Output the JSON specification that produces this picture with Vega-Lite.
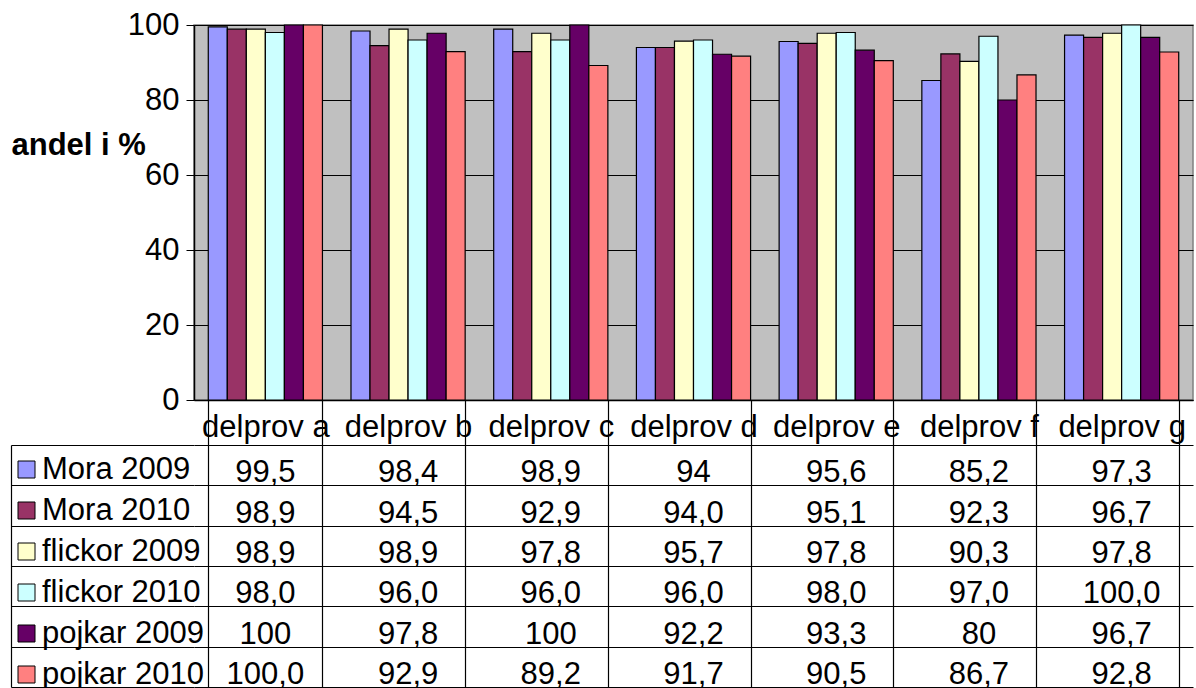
{
  "$schema": "https://vega.github.io/schema/vega-lite/v6.json",
  "padding": {"left": 10, "top": 8, "right": 0, "bottom": 0},
  "spacing": 45,
  "bounds": "flush",
  "config": {
    "font": "Liberation Sans",
    "view": {"stroke": null},
    "axis": {"labelFont": "Liberation Sans", "titleFont": "Liberation Sans", "labelColor": "black", "titleColor": "black", "domainColor": "black", "tickColor": "black", "gridColor": "black", "gridOpacity": 1},
    "legend": {"labelFont": "Liberation Sans"}
  },
  "data": {"values": [
    {"delprov": "delprov a", "serie": "Mora 2009", "andel": 99.5, "etikett": "99,5"},
    {"delprov": "delprov b", "serie": "Mora 2009", "andel": 98.4, "etikett": "98,4"},
    {"delprov": "delprov c", "serie": "Mora 2009", "andel": 98.9, "etikett": "98,9"},
    {"delprov": "delprov d", "serie": "Mora 2009", "andel": 94, "etikett": "94"},
    {"delprov": "delprov e", "serie": "Mora 2009", "andel": 95.6, "etikett": "95,6"},
    {"delprov": "delprov f", "serie": "Mora 2009", "andel": 85.2, "etikett": "85,2"},
    {"delprov": "delprov g", "serie": "Mora 2009", "andel": 97.3, "etikett": "97,3"},
    {"delprov": "delprov a", "serie": "Mora 2010", "andel": 98.9, "etikett": "98,9"},
    {"delprov": "delprov b", "serie": "Mora 2010", "andel": 94.5, "etikett": "94,5"},
    {"delprov": "delprov c", "serie": "Mora 2010", "andel": 92.9, "etikett": "92,9"},
    {"delprov": "delprov d", "serie": "Mora 2010", "andel": 94.0, "etikett": "94,0"},
    {"delprov": "delprov e", "serie": "Mora 2010", "andel": 95.1, "etikett": "95,1"},
    {"delprov": "delprov f", "serie": "Mora 2010", "andel": 92.3, "etikett": "92,3"},
    {"delprov": "delprov g", "serie": "Mora 2010", "andel": 96.7, "etikett": "96,7"},
    {"delprov": "delprov a", "serie": "flickor 2009", "andel": 98.9, "etikett": "98,9"},
    {"delprov": "delprov b", "serie": "flickor 2009", "andel": 98.9, "etikett": "98,9"},
    {"delprov": "delprov c", "serie": "flickor 2009", "andel": 97.8, "etikett": "97,8"},
    {"delprov": "delprov d", "serie": "flickor 2009", "andel": 95.7, "etikett": "95,7"},
    {"delprov": "delprov e", "serie": "flickor 2009", "andel": 97.8, "etikett": "97,8"},
    {"delprov": "delprov f", "serie": "flickor 2009", "andel": 90.3, "etikett": "90,3"},
    {"delprov": "delprov g", "serie": "flickor 2009", "andel": 97.8, "etikett": "97,8"},
    {"delprov": "delprov a", "serie": "flickor 2010", "andel": 98.0, "etikett": "98,0"},
    {"delprov": "delprov b", "serie": "flickor 2010", "andel": 96.0, "etikett": "96,0"},
    {"delprov": "delprov c", "serie": "flickor 2010", "andel": 96.0, "etikett": "96,0"},
    {"delprov": "delprov d", "serie": "flickor 2010", "andel": 96.0, "etikett": "96,0"},
    {"delprov": "delprov e", "serie": "flickor 2010", "andel": 98.0, "etikett": "98,0"},
    {"delprov": "delprov f", "serie": "flickor 2010", "andel": 97.0, "etikett": "97,0"},
    {"delprov": "delprov g", "serie": "flickor 2010", "andel": 100.0, "etikett": "100,0"},
    {"delprov": "delprov a", "serie": "pojkar 2009", "andel": 100, "etikett": "100"},
    {"delprov": "delprov b", "serie": "pojkar 2009", "andel": 97.8, "etikett": "97,8"},
    {"delprov": "delprov c", "serie": "pojkar 2009", "andel": 100, "etikett": "100"},
    {"delprov": "delprov d", "serie": "pojkar 2009", "andel": 92.2, "etikett": "92,2"},
    {"delprov": "delprov e", "serie": "pojkar 2009", "andel": 93.3, "etikett": "93,3"},
    {"delprov": "delprov f", "serie": "pojkar 2009", "andel": 80, "etikett": "80"},
    {"delprov": "delprov g", "serie": "pojkar 2009", "andel": 96.7, "etikett": "96,7"},
    {"delprov": "delprov a", "serie": "pojkar 2010", "andel": 100.0, "etikett": "100,0"},
    {"delprov": "delprov b", "serie": "pojkar 2010", "andel": 92.9, "etikett": "92,9"},
    {"delprov": "delprov c", "serie": "pojkar 2010", "andel": 89.2, "etikett": "89,2"},
    {"delprov": "delprov d", "serie": "pojkar 2010", "andel": 91.7, "etikett": "91,7"},
    {"delprov": "delprov e", "serie": "pojkar 2010", "andel": 90.5, "etikett": "90,5"},
    {"delprov": "delprov f", "serie": "pojkar 2010", "andel": 86.7, "etikett": "86,7"},
    {"delprov": "delprov g", "serie": "pojkar 2010", "andel": 92.8, "etikett": "92,8"}
  ]},
  "vconcat": [
    {
      "width": 999,
      "height": 375,
      "view": {"fill": "#C0C0C0", "stroke": "#808080", "strokeWidth": 1.5},
      "mark": {"type": "bar", "stroke": "black", "strokeWidth": 1.2},
      "encoding": {
        "x": {
          "field": "delprov", "type": "nominal", "title": null,
          "scale": {"paddingInner": 0.2, "paddingOuter": 0.1},
          "axis": {"tickBand": "extent", "tickSize": 45, "labelAngle": 0, "labelFontSize": 31, "labelBaseline": "alphabetic", "labelPadding": -9, "labelOverlap": false, "domainWidth": 1.5, "tickWidth": 1.2}
        },
        "xOffset": {
          "field": "serie", "type": "nominal",
          "sort": ["Mora 2009", "Mora 2010", "flickor 2009", "flickor 2010", "pojkar 2009", "pojkar 2010"],
          "scale": {"paddingInner": 0, "paddingOuter": 0}
        },
        "y": {
          "field": "andel", "type": "quantitative",
          "scale": {"domain": [0, 100], "nice": false},
          "axis": {"values": [0, 20, 40, 60, 80, 100], "title": "andel i %", "titleAngle": 0, "titleX": -183, "titleY": 129, "titleAlign": "left", "titleBaseline": "alphabetic", "titleFontSize": 31, "titleFontWeight": "bold", "labelFontSize": 31, "tickSize": 8, "labelPadding": 7, "grid": true, "gridWidth": 1.2, "domainWidth": 1.5}
        },
        "color": {
          "field": "serie", "type": "nominal",
          "scale": {
            "domain": ["Mora 2009", "Mora 2010", "flickor 2009", "flickor 2010", "pojkar 2009", "pojkar 2010"],
            "range": ["#9999FF", "#993366", "#FFFFCC", "#CCFFFF", "#660066", "#FF8080"]
          },
          "legend": {"title": null, "orient": "none", "legendX": -183, "legendY": 429, "symbolType": "square", "symbolSize": 289, "symbolStrokeColor": "black", "symbolStrokeWidth": 1, "symbolOpacity": 1, "labelFontSize": 31, "labelColor": "black", "labelOffset": 0, "rowPadding": 9, "padding": 0, "labelLimit": 300}
        }
      }
    },
    {
      "width": 999,
      "height": 242,
      "mark": {"type": "text", "fontSize": 31, "baseline": "alphabetic", "dy": 17, "color": "black"},
      "encoding": {
        "x": {
          "field": "delprov", "type": "nominal",
          "scale": {"paddingInner": 0.2, "paddingOuter": 0.1},
          "axis": {"orient": "top", "title": null, "labels": false, "ticks": false, "domain": false, "grid": true, "tickBand": "extent", "gridWidth": 1.2}
        },
        "y": {
          "field": "serie", "type": "nominal",
          "sort": ["Mora 2009", "Mora 2010", "flickor 2009", "flickor 2010", "pojkar 2009", "pojkar 2010"],
          "scale": {"paddingInner": 0, "paddingOuter": 0},
          "axis": {"title": null, "labels": false, "offset": 183, "tickSize": -183, "tickBand": "extent", "grid": true, "gridWidth": 1.2, "tickWidth": 1.2, "domainWidth": 1.2}
        },
        "text": {"field": "etikett"}
      }
    }
  ]
}
